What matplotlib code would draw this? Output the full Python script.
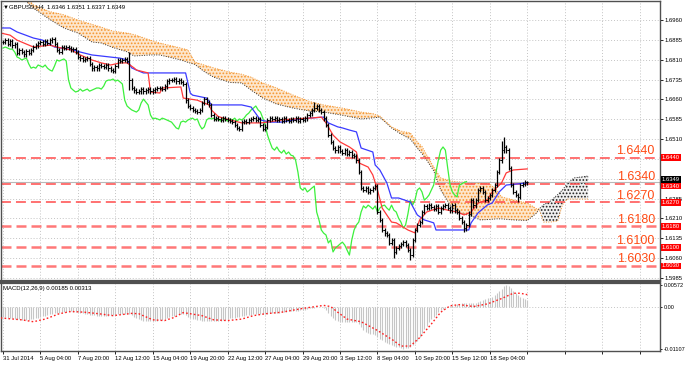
import numpy as np
import matplotlib.pyplot as plt

plt.rcParams['font.family'] = ['Liberation Sans', 'DejaVu Sans']
plt.rcParams['hatch.linewidth'] = 0.8

# GBPUSD H4 closes, one value per bar
closes = [
    1.6877, 1.6884, 1.6869, 1.6881, 1.6865, 1.6869, 1.6835, 1.6847, 1.6839, 1.6831, 1.6843, 1.6835, 1.6847, 1.6858, 1.6865, 1.6873,
    1.6877, 1.6869, 1.6881, 1.6873, 1.6884, 1.6888, 1.6869, 1.6847, 1.6839, 1.6858, 1.6854, 1.6858, 1.6854, 1.6850, 1.6850, 1.6839,
    1.6820, 1.6816, 1.6809, 1.6813, 1.6816, 1.6794, 1.6778, 1.6782, 1.6778, 1.6790, 1.6786, 1.6782, 1.6790, 1.6778, 1.6771, 1.6767,
    1.6786, 1.6809, 1.6805, 1.6809, 1.6813, 1.6805, 1.6733, 1.6703, 1.6695, 1.6688, 1.6691, 1.6699, 1.6691, 1.6695, 1.6699, 1.6691,
    1.6695, 1.6699, 1.6703, 1.6703, 1.6699, 1.6710, 1.6729, 1.6733, 1.6733, 1.6737, 1.6729, 1.6733, 1.6726, 1.6718, 1.6657, 1.6635,
    1.6627, 1.6620, 1.6616, 1.6612, 1.6620, 1.6646, 1.6661, 1.6650, 1.6639, 1.6601, 1.6586, 1.6589, 1.6586, 1.6582, 1.6589, 1.6586,
    1.6582, 1.6578, 1.6574, 1.6563, 1.6552, 1.6548, 1.6574, 1.6578, 1.6574, 1.6582, 1.6586, 1.6589, 1.6582, 1.6586, 1.6563, 1.6548,
    1.6556, 1.6582, 1.6589, 1.6586, 1.6589, 1.6582, 1.6586, 1.6578, 1.6589, 1.6582, 1.6578, 1.6586, 1.6582, 1.6589, 1.6578, 1.6586,
    1.6582, 1.6589, 1.6601, 1.6608, 1.6620, 1.6627, 1.6635, 1.6620, 1.6612, 1.6589, 1.6563, 1.6525, 1.6499, 1.6476, 1.6468, 1.6480,
    1.6465, 1.6457, 1.6468, 1.6453, 1.6461, 1.6449, 1.6446, 1.6430, 1.6385, 1.6325, 1.6317, 1.6325, 1.6310, 1.6317, 1.6325, 1.6332,
    1.6234, 1.6204, 1.6166, 1.6154, 1.6147, 1.6117, 1.6128, 1.6083, 1.6098, 1.6105, 1.6113, 1.6120, 1.6109, 1.6090, 1.6071, 1.6128,
    1.6166, 1.6185, 1.6196, 1.6234, 1.6257, 1.6249, 1.6260, 1.6253, 1.6245, 1.6257, 1.6234, 1.6249, 1.6257, 1.6260, 1.6249, 1.6241,
    1.6260, 1.6241, 1.6234, 1.6211, 1.6196, 1.6173, 1.6185, 1.6227, 1.6279, 1.6260, 1.6279, 1.6317, 1.6325, 1.6310, 1.6279, 1.6287,
    1.6298, 1.6317, 1.6336, 1.6385, 1.6430, 1.6468, 1.6480, 1.6468, 1.6400, 1.6336, 1.6310, 1.6298, 1.6291, 1.6336, 1.6340, 1.6346, 1.6349,
]
wick = 0.0009
extra_high = {54: 1.6839, 133: 1.6650, 213: 1.6503, 214: 1.6518, 224: 1.6351}
extra_low = {54: 1.6695, 167: 1.6060, 174: 1.6052, 197: 1.6158, 220: 1.6272, 224: 1.6337}

# Ichimoku lines (bar index, price)
tenkan_bars = [-1, 3, 6, 13, 20, 23, 29, 33, 38, 42, 46, 50, 53, 56, 57, 62, 63, 67, 68, 76,
               77, 83, 88, 89, 92, 97, 102, 110, 113, 119, 124, 131, 136, 138, 141, 144, 148, 151, 152, 156,
               158, 160, 162, 166, 168, 173, 176, 178, 181, 186, 190, 194, 197, 200, 203, 207, 209, 213, 215, 218, 224]
tenkan = [1.6911, 1.6903, 1.6884, 1.6858, 1.6865, 1.6858, 1.6847, 1.6828, 1.6809, 1.6798,
          1.6790, 1.6798, 1.6798, 1.6779, 1.6771, 1.6760, 1.6688, 1.6684, 1.6703, 1.6707,
          1.6665, 1.6657, 1.6639, 1.6620, 1.6595, 1.6582, 1.6571, 1.6571, 1.6574, 1.6582,
          1.6586, 1.6589, 1.6593, 1.6571, 1.6525, 1.6499, 1.6480, 1.6461, 1.6420, 1.6404,
          1.6374, 1.6317, 1.6249, 1.6196, 1.6193, 1.6166, 1.6155, 1.6204, 1.6234, 1.6249,
          1.6241, 1.6234, 1.6223, 1.6234, 1.6268, 1.6280, 1.6310, 1.6344, 1.6382, 1.6393, 1.6397]
kijun_bars = [-1, 3, 6, 13, 17, 22, 30, 33, 38, 46, 50, 53, 55, 57, 60, 78, 80, 81, 87, 89,
              102, 106, 110, 114, 119, 124, 131, 137, 139, 143, 145, 148, 151, 153, 158, 159, 161, 164, 166, 169,
              174, 177, 180, 184, 185, 199, 200, 203, 207, 209, 212, 215, 224]
kijun = [1.6930, 1.6930, 1.6915, 1.6892, 1.6884, 1.6858, 1.6847, 1.6839, 1.6828, 1.6820,
         1.6816, 1.6809, 1.6779, 1.6771, 1.6760, 1.6760, 1.6684, 1.6676, 1.6665, 1.6639,
         1.6639, 1.6631, 1.6582, 1.6574, 1.6574, 1.6582, 1.6589, 1.6593, 1.6571, 1.6556,
         1.6552, 1.6544, 1.6537, 1.6476, 1.6461, 1.6412, 1.6393, 1.6344, 1.6287, 1.6287,
         1.6272, 1.6223, 1.6204, 1.6193, 1.6166, 1.6166, 1.6193, 1.6231, 1.6261, 1.6268,
         1.6310, 1.6336, 1.6344]
kumo_bars = [-1, 8, 13, 20, 26, 32, 38, 42, 47, 53, 56, 63, 67, 76, 79, 82, 86, 90, 97, 102,
             106, 111, 117, 124, 131, 137, 145, 153, 158, 161, 166, 170, 174, 177, 179, 181, 184, 187, 191, 194,
             200, 204, 208, 211, 213, 218, 224, 228, 229, 231, 234, 237, 239, 241, 244, 250]
span_a = [1.7092, 1.7047, 1.7005, 1.6962, 1.6930, 1.6911, 1.6877, 1.6873, 1.6856, 1.6840,
          1.6824, 1.6828, 1.6828, 1.6809, 1.6800, 1.6792, 1.6765, 1.6744, 1.6724, 1.6722,
          1.6695, 1.6665, 1.6642, 1.6627, 1.6616, 1.6612, 1.6600, 1.6586, 1.6590, 1.6593,
          1.6552, 1.6529, 1.6510, 1.6476, 1.6455, 1.6431, 1.6390, 1.6317, 1.6261, 1.6234,
          1.6219, 1.6204, 1.6206, 1.6208, 1.6208, 1.6204, 1.6202, 1.6230, 1.6245, 1.6262,
          1.6276, 1.6300, 1.6317, 1.6340, 1.6363, 1.6370]
span_b = [1.7130, 1.7066, 1.7017, 1.6992, 1.6980, 1.6960, 1.6944, 1.6933, 1.6918, 1.6911,
          1.6905, 1.6884, 1.6873, 1.6854, 1.6847, 1.6801, 1.6790, 1.6779, 1.6763, 1.6755,
          1.6744, 1.6722, 1.6703, 1.6676, 1.6652, 1.6639, 1.6627, 1.6612, 1.6606, 1.6597,
          1.6556, 1.6540, 1.6533, 1.6499, 1.6482, 1.6450, 1.6404, 1.6363, 1.6352, 1.6348,
          1.6346, 1.6344, 1.6340, 1.6317, 1.6291, 1.6280, 1.6268, 1.6246, 1.6246, 1.6196,
          1.6196, 1.6200, 1.6261, 1.6283, 1.6283, 1.6283]

# horizontal levels
levels = [1.6440, 1.6340, 1.6270, 1.6180, 1.6100, 1.6030]

# MACD(12,26,9) main, in 1e-4 units, one per bar
macd_e4 = [
    -28, -28, -29, -30, -31, -32, -33, -34, -35, -35, -35, -35, -34, -33, -31, -29,
    -28, -26, -24, -21, -20, -19, -18, -17, -16, -15, -14, -14, -13, -13, -14, -14,
    -15, -16, -18, -19, -20, -21, -22, -23, -24, -24, -24, -24, -24, -24, -23, -22,
    -21, -20, -19, -19, -19, -19, -19, -23, -28, -31, -34, -36, -37, -38, -38, -38,
    -37, -37, -37, -36, -35, -33, -30, -28, -26, -24, -22, -20, -19, -19, -22, -27,
    -30, -32, -34, -35, -36, -37, -37, -37, -37, -38, -38, -38, -37, -37, -36, -35,
    -33, -31, -30, -29, -28, -27, -25, -24, -23, -22, -21, -20, -20, -19, -19, -19,
    -19, -19, -18, -18, -17, -17, -16, -15, -15, -14, -13, -13, -12, -11, -11, -10,
    -9, -8, -7, -5, -4, -3, -2, -2, -2, -4, -9, -16, -24, -30, -35, -38,
    -40, -40, -40, -41, -41, -40, -41, -42, -46, -54, -62, -67, -69, -71, -72, -74,
    -79, -85, -89, -93, -96, -99, -102, -104, -106, -107, -109, -110.7, -110, -110, -107, -102,
    -96, -90, -81, -70, -60, -50, -42, -34, -27, -21, -15, -10, -6, -3, -1, 1,
    3, 5, 6, 7, 8, 9, 9, 9, 8, 8, 9, 12, 15, 18, 20, 22,
    23, 26, 30, 35, 41, 47, 53, 57.2, 54, 48, 42, 35, 30, 26, 23, 20, 18.5,
]
signal_bars = [-1, 8, 13, 18, 24, 29, 35, 41, 47, 55, 58, 64, 69, 73, 77, 85, 90, 96, 102, 107,
               112, 119, 128, 137, 140, 143, 147, 153, 160, 167, 170, 174, 178, 183, 187, 191, 195, 201, 207, 213,
               218, 221, 224]
signal_e4 = [-30, -35, -40, -33, -19, -13, -15, -19, -24, -18, -19, -35, -37, -29, -16, -24, -35, -37, -33, -24,
             -19, -15, -5, 3, 0, -15, -33, -40, -63, -90, -104, -104, -82, -46, -15, 2, 5, 0, 7, 21,
             35, 35, 31.3]

date_labels = ['31 Jul 2014', '5 Aug 04:00', '7 Aug 20:00', '12 Aug 12:00', '15 Aug 04:00',
               '19 Aug 20:00', '22 Aug 12:00', '27 Aug 04:00', '29 Aug 20:00', '3 Sep 12:00',
               '8 Sep 04:00', '10 Sep 20:00', '15 Sep 12:00', '18 Sep 04:00']

# ---------------------------------------------------------------
n = len(closes)
idx = np.arange(n)
opens = [closes[0]] + closes[:-1]
highs = [max(o, c) + wick for o, c in zip(opens, closes)]
lows = [min(o, c) - wick for o, c in zip(opens, closes)]
for k, v in extra_high.items():
    highs[k] = v
for k, v in extra_low.items():
    lows[k] = v

fig = plt.figure(figsize=(6.85, 3.65), dpi=100)
fig.patch.set_facecolor('white')
ax = fig.add_axes([0.0015, 0.2301, 0.962, 0.7671])
ax2 = fig.add_axes([0.0015, 0.0384, 0.962, 0.1863], sharex=ax)

xmin, xmax = -0.85, 280.7
grid_ticks = list(range(0, 273, 16))
grid_kw = dict(color='#c4c4c4', linestyle=(0, (1, 2)), linewidth=0.7)

# --- main chart
ax.set_xlim(xmin, xmax)
ax.set_ylim(1.5973, 1.7032)
price_ticks = [round(1.5985 + 0.0075 * k, 4) for k in range(14)]
ax.set_yticks(price_ticks)
# labels sitting under the level boxes are hidden, as on the terminal
hidden = (1.6435, 1.6360)
ax.set_yticklabels(['' if p in hidden else '%.4f' % p for p in price_ticks])
ax.set_xticks(grid_ticks)
ax.grid(True, **grid_kw)
ax.set_axisbelow(True)
ax.tick_params(axis='x', length=0, labelbottom=False)
ax.tick_params(axis='y', left=False, labelleft=False, right=True, labelright=True,
               direction='out', length=2, width=0.6, pad=1.5, labelsize=4.2)

# kumo
kb = np.array(kumo_bars, dtype=float)
sa = np.array(span_a)
sb = np.array(span_b)
ax.fill_between(kb, sa, sb, where=sa <= sb, interpolate=True, facecolor='#fde6cc',
                edgecolor='#f5962f', hatch='.....', linewidth=0, zorder=1)
ax.fill_between(kb, sa, sb, where=sa > sb, interpolate=True, facecolor='#f0f0f0',
                edgecolor='#202020', hatch='.....', linewidth=0, zorder=1)
ax.plot(kb, sa, color='#303030', linestyle=(0, (1, 1.5)), linewidth=0.7, zorder=1.2)
ax.plot(kb, sb, color='#f5962f', linestyle=(0, (1, 1.5)), linewidth=0.7, zorder=1.2)

# level lines
for k, lv in enumerate(levels):
    if k < 3:
        ax.axhline(lv, color='#ff4a4a', linewidth=1.1, linestyle=(0, (6.5, 3.3)), zorder=1.5)
    else:
        ax.axhline(lv, color='#ff7878', linewidth=1.8, linestyle=(0, (4, 2)), zorder=1.5)

# bid line
ax.axhline(closes[-1], color='#b8b8b8', linewidth=0.8, zorder=1.4)

# ichimoku lines
ax.plot(idx[:n - 26], closes[26:], color='#3cf03c', linewidth=0.9, zorder=2)
ax.plot(kijun_bars, kijun, color='#3a3aff', linewidth=0.9, zorder=2)
ax.plot(tenkan_bars, tenkan, color='#ff3a3a', linewidth=0.9, zorder=2)

# price bars
ax.vlines(idx, lows, highs, color='black', linewidth=0.9, zorder=3)
ax.hlines(opens, idx - 0.5, idx, color='black', linewidth=0.7, zorder=3)
ax.hlines(closes, idx, idx + 0.5, color='black', linewidth=0.7, zorder=3)

# level labels and right-hand price boxes
box_y = {1.6340: 1.6332}
for lv in levels:
    ax.text(278.5, lv + 0.0002, '%.4f' % lv, color='#ff4a14', fontsize=9,
            ha='right', va='bottom', zorder=4)
    ax.text(1.003, box_y.get(lv, lv), '%.4f' % lv, transform=ax.get_yaxis_transform(),
            color='white', fontsize=4.2, ha='left', va='center', clip_on=False, zorder=5,
            bbox=dict(boxstyle='square,pad=0.14', fc='#ff0000', ec='none'))
ax.text(1.003, 1.6357, '%.4f' % closes[-1], transform=ax.get_yaxis_transform(),
        color='white', fontsize=4.2, ha='left', va='center', clip_on=False, zorder=6,
        bbox=dict(boxstyle='square,pad=0.14', fc='black', ec='none'))

ax.text(0.003, 0.988, '\u25bcGBPUSD,H4  1.6346 1.6351 1.6337 1.6349', transform=ax.transAxes,
        fontsize=4.3, ha='left', va='top', family=['Liberation Sans', 'DejaVu Sans'])

# --- MACD
ax2.set_xlim(xmin, xmax)
ax2.set_ylim(-0.0117, 0.0062)
macd = np.array(macd_e4) * 1e-4
ax2.vlines(np.arange(len(macd)), 0, macd, color='#c6c6c6', linewidth=0.8, zorder=2)
ax2.plot(signal_bars, np.array(signal_e4) * 1e-4, color='#ff2020',
         linestyle=(0, (1.2, 1.6)), linewidth=1.0, zorder=3)
ax2.axhline(0, **grid_kw, zorder=1)
ax2.set_xticks(grid_ticks)
ax2.set_xticklabels(date_labels + [''] * (len(grid_ticks) - len(date_labels)),
                    ha='left', fontsize=4.2)
ax2.grid(True, axis='x', **grid_kw)
ax2.set_axisbelow(True)
ax2.set_yticks([0.00572, 0.0, -0.01107])
ax2.set_yticklabels(['0.00572', '0.00', '-0.01107'])
ax2.tick_params(axis='y', left=False, labelleft=False, right=True, labelright=True,
                direction='out', length=1.5, width=0.6, pad=1.0, labelsize=4.0)
ax2.tick_params(axis='x', direction='out', length=2, width=0.6, pad=1.5)
ax2.text(0.003, 0.95, 'MACD(12,26,9) 0.00185 0.00313', transform=ax2.transAxes,
         fontsize=4.3, ha='left', va='top')

for a in (ax, ax2):
    for s in a.spines.values():
        s.set_color('#505050')
        s.set_linewidth(1.0)
ax.spines['bottom'].set_linewidth(1.6)
ax2.spines['top'].set_linewidth(1.6)

fig.savefig('out.png', dpi=100, facecolor='white')
